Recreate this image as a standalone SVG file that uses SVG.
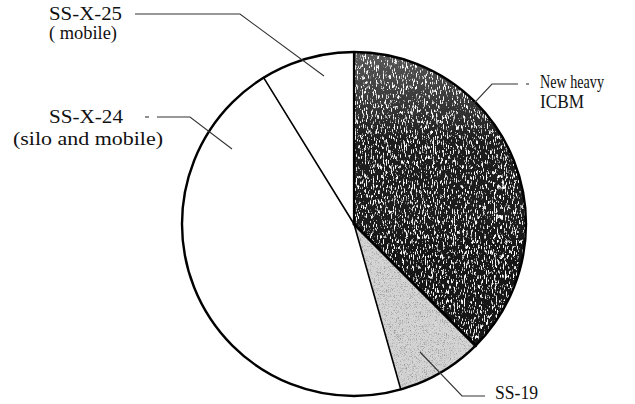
<svg xmlns="http://www.w3.org/2000/svg" width="635" height="404" viewBox="0 0 635 404">
  <style>
    .lbl { font-family: "Liberation Serif", "Times New Roman", serif; font-size: 18px; fill: #111; }
    .lead { fill: none; stroke: #333; stroke-width: 1.1; }
    .div { fill: none; stroke: #000; stroke-linecap: round; }
  </style>
  <defs>
    <linearGradient id="darkGrad" x1="0" y1="0" x2="0" y2="1">
      <stop offset="0" stop-color="#5a5a5a"/>
      <stop offset="0.3" stop-color="#1e1e1e"/>
      <stop offset="1" stop-color="#141414"/>
    </linearGradient>
    <filter id="speckDark" x="0" y="0" width="1" height="1">
      <feTurbulence type="fractalNoise" baseFrequency="1.1 0.2" numOctaves="4" seed="11" result="t"/>
      <feColorMatrix in="t" type="matrix" values="0 0 0 0 1  0 0 0 0 1  0 0 0 0 1  7 0 0 0 -4.0" result="w"/>
      <feComposite in="w" in2="SourceGraphic" operator="in" result="wc"/>
      <feMerge><feMergeNode in="SourceGraphic"/><feMergeNode in="wc"/></feMerge>
    </filter>
    <filter id="speckLight" x="0" y="0" width="1" height="1">
      <feTurbulence type="fractalNoise" baseFrequency="1.5" numOctaves="1" seed="3" result="t"/>
      <feColorMatrix in="t" type="matrix" values="0 0 0 0 0  0 0 0 0 0  0 0 0 0 0  1.6 0 0 0 -0.75" result="k"/>
      <feComposite in="k" in2="SourceGraphic" operator="in" result="kc"/>
      <feMerge><feMergeNode in="SourceGraphic"/><feMergeNode in="kc"/></feMerge>
    </filter>
  </defs>

  <g id="slice-ss-x-25">
    <path d="M354,224 L263.6,77.7 A172,172 0 0 1 354,52 Z" fill="#fff"/>
  </g>
  <g id="slice-new-heavy-icbm">
    <path d="M354,224 L354,52 A172,172 0 0 1 475.6,345.6 Z" fill="url(#darkGrad)" filter="url(#speckDark)"/>
  </g>
  <g id="slice-ss-19">
    <path d="M354,224 L475.6,345.6 A172,172 0 0 1 400.8,389.5 Z" fill="#d6d6d6" filter="url(#speckLight)"/>
  </g>
  <g id="slice-ss-x-24">
    <path d="M354,224 L400.8,389.5 A172,172 0 1 1 263.6,77.7 Z" fill="#fff"/>
  </g>

  <g id="pie-outline">
    <circle cx="354" cy="224" r="172" fill="none" stroke="#000" stroke-width="2.4"/>
    <line class="div" x1="354" y1="224" x2="354" y2="52" stroke-width="2.2"/>
    <line class="div" x1="354" y1="224" x2="475.6" y2="345.6" stroke-width="3"/>
    <line class="div" x1="354" y1="224" x2="400.8" y2="389.5" stroke-width="1.6"/>
    <line class="div" x1="354" y1="224" x2="263.6" y2="77.7" stroke-width="1.6"/>
  </g>

  <g id="connectors">
    <polyline class="lead" points="135,14 240,14 324,76"/>
    <line class="lead" x1="145" y1="117" x2="149" y2="117"/>
    <polyline class="lead" points="157,117 190,117 232,149"/>
    <line class="lead" x1="526" y1="84" x2="529" y2="84"/>
    <polyline class="lead" points="518,84 492,84 447,132" stroke="#111" stroke-width="1.4"/>
    <polyline class="lead" points="420,352 462,396 485,396"/>
  </g>

  <g id="labels">
    <g id="label-ss-x-25">
      <text class="lbl" x="49" y="20" textLength="73" lengthAdjust="spacingAndGlyphs">SS-X-25</text>
      <text class="lbl" x="49" y="39" textLength="68" lengthAdjust="spacingAndGlyphs">( mobile)</text>
    </g>
    <g id="label-ss-x-24">
      <text class="lbl" x="49" y="123" textLength="74" lengthAdjust="spacingAndGlyphs">SS-X-24</text>
      <text class="lbl" x="13" y="145" textLength="150" lengthAdjust="spacingAndGlyphs">(silo and mobile)</text>
    </g>
    <g id="label-new-heavy-icbm">
      <text class="lbl" x="540" y="88" textLength="64" lengthAdjust="spacingAndGlyphs">New heavy</text>
      <text class="lbl" x="540" y="108" textLength="44" lengthAdjust="spacingAndGlyphs">ICBM</text>
    </g>
    <g id="label-ss-19">
      <text class="lbl" x="495" y="399" textLength="43" lengthAdjust="spacingAndGlyphs">SS-19</text>
    </g>
  </g>
</svg>
